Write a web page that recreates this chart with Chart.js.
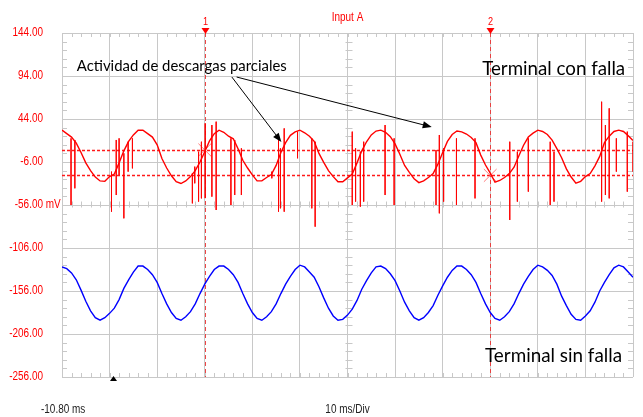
<!DOCTYPE html>
<html>
<head>
<meta charset="utf-8">
<script src="https://cdn.jsdelivr.net/npm/chart.js@4.4.1/dist/chart.umd.min.js"></script>
<style>
  html, body { margin: 0; padding: 0; background: #fff; }
  #wrap { width: 643px; height: 417px; position: relative; }
</style>
</head>
<body>
<div id="wrap"><canvas id="scope"></canvas></div>
<script>
// sample grid of the captured traces (ms)
const sampleStartMs = -10.8;
const sampleStepMs = 1;

// Input A, terminal with fault (mV), every 1 ms
const redTrace = [
  31, 27, 23, 16, 5, -7, -16, -23.5, -28, -28.5,
  -23, -20, -7, 7, 18, 25.5, 31, 31, 27, 23,
  14, -2, -13, -22, -29, -31, -28, -23, -16, -6,
  6, 18.5, 27, 31, 28.5, 24, 21, 9.5, -4, -13,
  -21, -28, -28, -24, -20.5, -10, 5, 16.5, 25, 29,
  31, 28, 24, 18, 4, -6.5, -16, -23, -29, -29,
  -24.5, -20, -7, 7, 17.5, 25.5, 30, 31, 28.5, 23.5,
  15, 3, -10, -18, -25.5, -30, -28, -24, -19.5, -8.5,
  5, 18, 26, 30, 29, 26.5, 22.5, 16.5, 2, -9.5,
  -19, -29.5, -27.5, -24, -19.5, -12, 1, 13.5, 23, 27.5,
  31, 29.5, 26, 19.5, 9.5, -1, -14, -23.5, -30.5, -28.5,
  -23, -19.5, -10.5, 0.5, 16.5, 24, 29.5, 31, 29.5, 24.5,
  19
];

// terminal without fault (mV)
const blueTrace = [
  -128, -130, -135, -143, -155, -168, -179, -187, -190, -187,
  -182, -176, -166, -153, -143, -134, -127, -127, -131, -137,
  -146, -159, -171, -181, -188, -190, -186, -180, -171, -159,
  -148, -139, -131, -127, -127, -131, -137, -146, -159, -171,
  -181, -188, -190, -186, -180, -171, -159, -148, -139, -131,
  -126, -128, -134, -140, -151, -164, -176, -185, -190, -189,
  -184, -177, -167, -154, -144, -135, -128, -127, -130, -136,
  -144, -156, -169, -179, -187, -190, -187, -181, -173, -161,
  -150, -140, -132, -127, -127, -131, -137, -146, -159, -171,
  -181, -188, -190, -186, -180, -171, -159, -148, -139, -131,
  -126, -128, -132, -138, -148, -162, -173, -183, -189, -190,
  -185, -179, -169, -156, -146, -137, -129, -126, -128, -134,
  -140
];

// partial discharge spikes: time (ms), top and bottom (mV)
const spikeTimes = [-8.9, -8.1, -0.4, 0.6, 1.2, 2.2, 3.1, 4.0, 16.6, 17.1, 17.9, 18.5, 19.3, 20.7, 21.6,
  24.7, 25.5, 26.9, 33.3, 34.7, 35.1, 35.9, 38.7, 41.7, 42.4, 50.2, 50.9, 51.9, 52.6, 57.1, 59.0,
  67.8, 68.5, 69.4, 72.1, 76.0, 83.3, 84.9, 87.2, 91.8, 92.6, 102.6, 103.4, 104.2, 105.7, 108.0, 109.2];
const spikeTops = [21.5, 19.6, -17.2, 19.6, 21.5, 4.1, 17.6, 21.5, -19.2, -11.4, 6, 17.6, 39, 37, 40.9,
  21.5, 19.6, 9.9, -17.2, 19.6, 9.9, 33.1, 29.3, 21.5, 17.6, 29.3, 9.9, 6, 17.6, 37, 21.5,
  8, 25.4, 9.9, 21.5, 21.5, 17.6, 6, 21.5, 17.6, 6, 64.1, 37, 56.4, 21.5, 29.3, 17.6];
const spikeBottoms = [-56, -36.6, -63.8, -44.4, -21.1, -71.5, -17.2, -13.4, -54.1, -30.8, -52.1, -48.3, -48, -46.3, -61.8,
  -56, -44.4, -44.4, -25, -63.8, -59.9, -63.8, -1.7, -59.9, -81.2, -56, -52.1, -58, -52.1, -44.4, -56,
  -56, -65.7, -52.1, -56, -48.3, -73.4, -52.1, -40.5, -56, -52.1, -52.1, -44.4, -48.3, -17.2, -40.5, -17.2];

// axes
const xGridMs = [-10.8, -0.8, 9.2, 19.2, 29.2, 39.2, 49.2, 59.2, 69.2, 79.2, 89.2, 99.2, 109.2];
const yTickValues = [144, 94, 44, -6, -56, -106, -156, -206, -256];
const unitTick = -56;

// cursors
const cursorTimes = [19.2, 79.2];
const cursorLevels = [8, -21.6];
const triggerMs = 0;

const gridColor = '#c8c8c8';
const scopeFont = '"Liberation Sans", Arial, sans-serif';
const noteFont = 'Lato, "Open Sans", sans-serif';

const times = redTrace.map((_, i) => +(sampleStartMs + i * sampleStepMs).toFixed(2));
const redData = times.map((t, i) => ({ x: t, y: redTrace[i] }));
const blueData = times.map((t, i) => ({ x: t, y: blueTrace[i] }));
const spikeData = [];
spikeTimes.forEach((t, i) => {
  spikeData.push({ x: t, y: spikeTops[i] }, { x: t, y: spikeBottoms[i] }, { x: t, y: null });
});
const crossData = cursorTimes.map((t, i) => ({ x: t, y: cursorLevels[i] }));

// the scope uses a narrow face: squeeze Liberation Sans horizontally
function narrowText(ctx, text, x, y, align) {
  ctx.save();
  ctx.translate(x, y);
  ctx.scale(0.83, 1);
  ctx.textAlign = align;
  ctx.fillText(text, 0, 0);
  ctx.restore();
}

function arrow(ctx, x1, y1, x2, y2) {
  const a = Math.atan2(y2 - y1, x2 - x1);
  ctx.beginPath();
  ctx.moveTo(x1, y1);
  ctx.lineTo(x2 - 6 * Math.cos(a), y2 - 6 * Math.sin(a));
  ctx.stroke();
  ctx.beginPath();
  ctx.moveTo(x2, y2);
  ctx.lineTo(x2 - 9 * Math.cos(a) + 3.5 * Math.sin(a), y2 - 9 * Math.sin(a) - 3.5 * Math.cos(a));
  ctx.lineTo(x2 - 9 * Math.cos(a) - 3.5 * Math.sin(a), y2 - 9 * Math.sin(a) + 3.5 * Math.cos(a));
  ctx.closePath();
  ctx.fill();
}

const scopeDecor = {
  id: 'scopeDecor',
  beforeDatasetsDraw(chart) {
    const ctx = chart.ctx, xs = chart.scales.x, ys = chart.scales.y;
    const { left, right, top, bottom } = chart.chartArea;
    ctx.save();
    // minor ticks on frame and centre lines
    ctx.strokeStyle = gridColor;
    ctx.lineWidth = 1;
    ctx.beginPath();
    const yc = Math.round(ys.getPixelForValue(unitTick)) + 0.5;
    const xc = Math.round(xs.getPixelForValue(xGridMs[6])) + 0.5;
    for (let t = xGridMs[0]; t <= xGridMs[xGridMs.length - 1] + 0.01; t += 2) {
      const px = Math.round(xs.getPixelForValue(t)) + 0.5;
      ctx.moveTo(px, top); ctx.lineTo(px, top + 4);
      ctx.moveTo(px, bottom); ctx.lineTo(px, bottom - 4);
      ctx.moveTo(px, yc - 4); ctx.lineTo(px, yc + 2);
    }
    for (let v = -256; v <= 144.01; v += 10) {
      const py = Math.round(ys.getPixelForValue(v)) + 0.5;
      ctx.moveTo(left, py); ctx.lineTo(left + 5, py);
      ctx.moveTo(right - 5, py); ctx.lineTo(right, py);
      ctx.moveTo(xc - 3, py); ctx.lineTo(xc + 4, py);
    }
    ctx.stroke();

    // vertical cursors
    ctx.strokeStyle = 'rgba(235,50,50,0.9)';
    ctx.setLineDash([4, 3]);
    cursorTimes.forEach(t => {
      const px = Math.round(xs.getPixelForValue(t)) + 0.5;
      ctx.beginPath(); ctx.moveTo(px, top); ctx.lineTo(px, bottom); ctx.stroke();
    });
    // horizontal cursors
    ctx.strokeStyle = '#ff1a1a';
    ctx.lineWidth = 1.3;
    ctx.setLineDash([3, 2]);
    cursorLevels.forEach(v => {
      const py = Math.round(ys.getPixelForValue(v)) + 0.5;
      ctx.beginPath(); ctx.moveTo(left, py); ctx.lineTo(right, py); ctx.stroke();
    });
    ctx.restore();
  },
  afterDatasetsDraw(chart) {
    const ctx = chart.ctx, xs = chart.scales.x, ys = chart.scales.y;
    const { left, right, top, bottom } = chart.chartArea;
    const X = t => xs.getPixelForValue(t), Y = v => ys.getPixelForValue(v);
    ctx.save();
    ctx.textBaseline = 'middle';

    // y labels
    ctx.fillStyle = '#ff0000';
    ctx.font = '12px ' + scopeFont;
    yTickValues.forEach(v => {
      const py = Math.round(Y(v));
      narrowText(ctx, v.toFixed(2), 43, py, 'right');
      if (v === unitTick) narrowText(ctx, ' mV', 43, py, 'left');
    });

    // cursor flags
    ctx.font = '11px ' + scopeFont;
    cursorTimes.forEach((t, i) => {
      const px = Math.round(X(t)) + 0.5;
      narrowText(ctx, String(i + 1), px, 22, 'center');
      ctx.beginPath();
      ctx.moveTo(px - 4, top - 5); ctx.lineTo(px + 4, top - 5); ctx.lineTo(px, top + 1);
      ctx.closePath(); ctx.fill();
    });
    ctx.font = '12px ' + scopeFont;
    narrowText(ctx, 'Input A', (left + right) / 2, 18, 'center');

    // trigger mark
    const tx = Math.round(X(triggerMs)) + 0.5;
    ctx.fillStyle = '#000';
    ctx.beginPath();
    ctx.moveTo(tx, bottom - 1); ctx.lineTo(tx + 3.5, bottom + 4); ctx.lineTo(tx - 3.5, bottom + 4);
    ctx.closePath(); ctx.fill();

    // time base text
    ctx.fillStyle = '#222';
    ctx.font = '12px ' + scopeFont;
    narrowText(ctx, xGridMs[0].toFixed(2) + ' ms', 41, 410, 'left');
    narrowText(ctx, '10 ms/Div', (left + right) / 2, 410, 'center');

    // annotations
    ctx.fillStyle = '#000';
    ctx.strokeStyle = '#000';
    ctx.lineWidth = 1;
    ctx.textAlign = 'left';
    ctx.textBaseline = 'alphabetic';
    ctx.font = '15px ' + noteFont;
    ctx.fillText('Actividad de descargas parciales', X(-7.7), Y(99.8), 210);
    ctx.font = '19px ' + noteFont;
    ctx.fillText('Terminal con falla', X(77.5), Y(95.4), 143);
    ctx.fillText('Terminal sin falla', X(78.1), Y(-238.8), 137);
    arrow(ctx, X(24.9), Y(92.8), X(35.3), Y(17.3));
    arrow(ctx, X(25.9), Y(92.8), X(66.9), Y(34.7));
    ctx.restore();
  }
};

new Chart(document.getElementById('scope'), {
  type: 'line',
  data: {
    datasets: [
      { label: 'Terminal sin falla', data: blueData, borderColor: '#0000ff', borderWidth: 1.4, pointRadius: 0 },
      { label: 'Terminal con falla', data: redData, borderColor: '#ff0000', borderWidth: 1.4, pointRadius: 0 },
      { label: 'Descargas', data: spikeData, borderColor: 'rgba(255,0,0,0.85)', borderWidth: 1, pointRadius: 0, spanGaps: false },
      { label: 'Cursores', data: crossData, showLine: false, pointStyle: 'crossRot', pointRadius: 9,
        borderColor: 'rgba(255,110,110,0.9)', borderWidth: 1 }
    ]
  },
  options: {
    responsive: true,
    maintainAspectRatio: false,
    animation: false,
    devicePixelRatio: 1,
    layout: { padding: { top: 33, right: 6, bottom: 40, left: 0 } },
    plugins: { legend: { display: false }, tooltip: { enabled: false }, title: { display: false } },
    elements: { line: { tension: 0 } },
    scales: {
      x: {
        type: 'linear',
        min: xGridMs[0],
        max: xGridMs[xGridMs.length - 1],
        afterBuildTicks: s => { s.ticks = xGridMs.map(v => ({ value: v })); },
        afterFit: s => { s.height = 0; },
        ticks: { display: false },
        grid: { color: gridColor, drawTicks: false },
        border: { display: false }
      },
      y: {
        min: yTickValues[yTickValues.length - 1],
        max: yTickValues[0],
        afterBuildTicks: s => { s.ticks = yTickValues.map(v => ({ value: v })); },
        afterFit: s => { s.width = 62; },
        ticks: { display: false },
        grid: { color: gridColor, drawTicks: false },
        border: { display: false }
      }
    }
  },
  plugins: [scopeDecor]
});
</script>
</body>
</html>
